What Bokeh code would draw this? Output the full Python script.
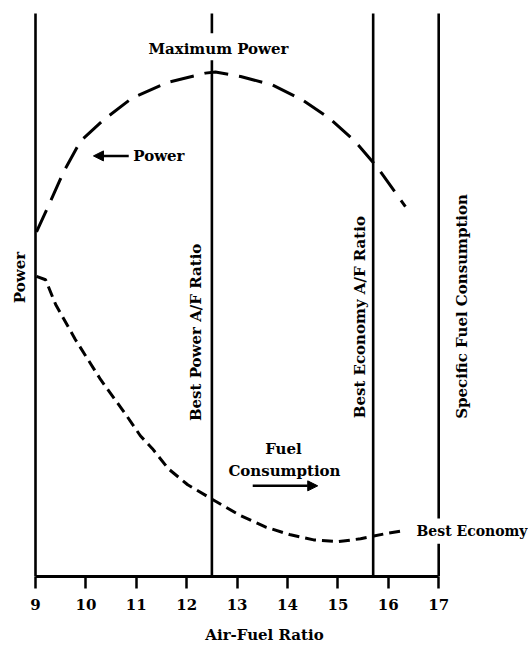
import math
from bokeh.plotting import figure
from bokeh.models import Range1d, FixedTicker, ColumnDataSource, Arrow, NormalHead
from bokeh.core.properties import value
from bokeh.embed import file_html
from bokeh.resources import INLINE

# ---- data (y is relative, 0 = axis, 100 = top of reference lines) ----
afr_ticks = [9, 10, 11, 12, 13, 14, 15, 16, 17]

power_afr = [9.02, 9.24, 9.56, 9.89, 10.35, 10.92, 11.64, 12.37, 12.57, 13.07,
             13.70, 14.30, 14.83, 15.35, 15.79, 16.34]
power_val = [61.2, 65.5, 71.9, 77.3, 81.1, 85.0, 87.8, 89.4, 89.6, 88.8,
             87.3, 84.6, 81.4, 77.2, 72.6, 65.7]

fuel_afr = [9.02, 9.20, 9.40, 9.79, 10.29, 10.79, 11.08, 11.32, 11.64, 12.02,
            12.49, 13.07, 13.56, 14.06, 14.52, 15.01, 15.45, 15.94, 16.28]
fuel_val = [53.3, 52.7, 48.3, 42.1, 35.0, 28.8, 25.0, 22.7, 19.1, 16.3,
            13.8, 10.8, 8.8, 7.4, 6.5, 6.2, 6.7, 7.6, 8.1]

ref_afr = [9, 12.5, 15.7, 17]
ref_top = 100

FONT = value("DejaVu Serif")
FS = "15px"

p = figure(width=528, height=646, output_backend="svg", toolbar_location=None,
           x_range=Range1d(8.3056, 18.782), y_range=Range1d(0, 102.3),
           y_axis_location=None, min_border=0, min_border_bottom=68)
p.outline_line_color = None
p.grid.visible = False
p.background_fill_color = "white"

xa = p.xaxis[0]
xa.ticker = FixedTicker(ticks=afr_ticks)
xa.bounds = (9, 17)
xa.axis_line_width = 3
xa.axis_line_color = "black"
xa.major_tick_line_width = 2.5
xa.major_tick_out = 12
xa.major_tick_in = 0
xa.minor_tick_line_color = None
xa.major_label_text_font = "DejaVu Serif"
xa.major_label_text_font_style = "bold"
xa.major_label_text_font_size = FS
xa.major_label_text_color = "black"
xa.major_label_standoff = 10
xa.axis_label = "Air-Fuel Ratio"
xa.axis_label_text_font = "DejaVu Serif"
xa.axis_label_text_font_style = "bold"
xa.axis_label_text_font_size = FS
xa.axis_label_text_color = "black"
xa.axis_label_standoff = 13

# reference (vertical) lines, with gaps where labels cross them
max_gap = (91.7, 96.5)
eco_gap = (5.8, 10.3)
seg_x, seg_y0, seg_y1 = [], [], []
for a in ref_afr:
    if a == 12.5:
        seg_x += [a, a]; seg_y0 += [0, max_gap[1]]; seg_y1 += [max_gap[0], ref_top]
    elif a == 17:
        seg_x += [a, a]; seg_y0 += [0, eco_gap[1]]; seg_y1 += [eco_gap[0], ref_top]
    else:
        seg_x += [a]; seg_y0 += [0]; seg_y1 += [ref_top]
p.segment(x0=seg_x, y0=seg_y0, x1=seg_x, y1=seg_y1, line_color="black", line_width=2.6)

# curves
p.line(power_afr, power_val, line_color="black", line_width=3, line_dash="24 11")
p.line(fuel_afr, fuel_val, line_color="black", line_width=3, line_dash="11 6")

def txt(x, y, t, align="center", angle=0.0, size=FS):
    p.text(x=[x], y=[y], text=[t], text_font=FONT, text_font_style="bold",
           text_font_size=size, text_color="black", text_align=align,
           text_baseline="middle", angle=angle)

txt(12.63, 93.6, "Maximum Power")
txt(10.94, 74.7, "Power", align="left")
txt(13.92, 22.7, "Fuel")
txt(13.94, 18.8, "Consumption")
txt(16.56, 8.0, "Best Economy", align="left", size="14px")
txt(8.70, 53.1, "Power", angle=math.pi / 2)
txt(12.19, 27.6, "Best Power A/F Ratio", align="left", angle=math.pi / 2)
txt(15.43, 28.1, "Best Economy A/F Ratio", align="left", angle=math.pi / 2)
txt(17.47, 28.0, "Specific Fuel Consumption", align="left", angle=math.pi / 2)

arrows = ColumnDataSource(dict(x0=[10.85, 13.31], y0=[74.7, 16.1], x1=[10.15, 14.60], y1=[74.7, 16.1]))
p.add_layout(Arrow(source=arrows, x_start="x0", y_start="y0", x_end="x1", y_end="y1",
                   line_color="black", line_width=2.5,
                   end=NormalHead(size=10, fill_color="black", line_color="black")))

open("out.html", "w").write(file_html(p, INLINE))
